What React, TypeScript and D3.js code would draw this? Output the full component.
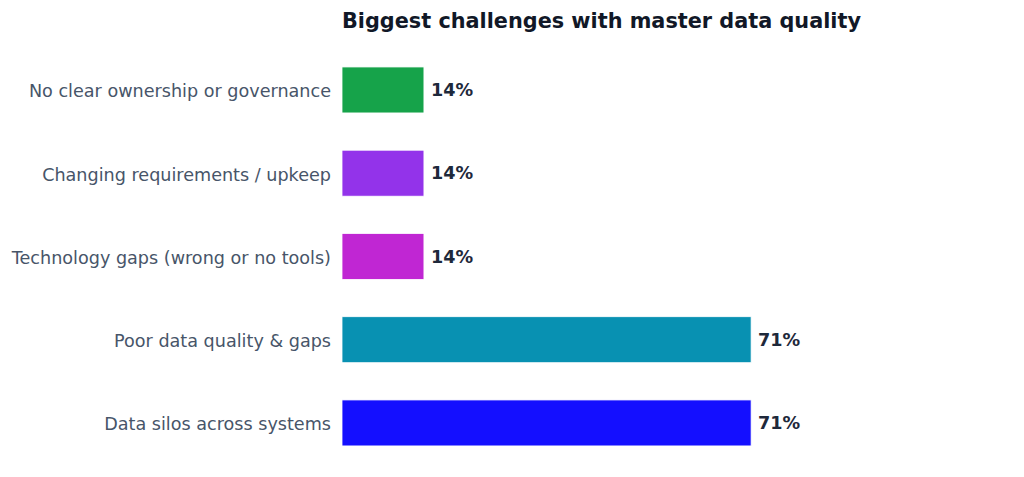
import React, { useEffect, useRef } from 'react';
import * as d3 from 'd3';

const categories = [
  'No clear ownership or governance',
  'Changing requirements / upkeep',
  'Technology gaps (wrong or no tools)',
  'Poor data quality & gaps',
  'Data silos across systems',
];
const values = [14.3, 14.3, 14.3, 71.4, 71.4];
const colors = ['#16a34a', '#9333ea', '#c026d3', '#0891b2', '#140fff'];
const title = 'Biggest challenges with master data quality';

const App: React.FC = () => {
  const svgRef = useRef<SVGSVGElement | null>(null);

  useEffect(() => {
    if (!svgRef.current) return;
    const width = 1024;
    const height = 477;
    const font = 'DejaVu Sans, sans-serif';

    const svg = d3.select(svgRef.current);
    svg.selectAll('*').remove();
    svg.attr('width', width).attr('height', height);

    const data = categories.map((c, i) => ({ label: c, value: values[i], color: colors[i] }));

    const x = d3.scaleLinear().domain([0, 100]).range([342, 915]);
    const y = d3
      .scaleBand()
      .domain(categories)
      .range([29.5, 483.4])
      .paddingInner(0.4475)
      .paddingOuter(0.45);

    // Title
    svg
      .append('text')
      .attr('x', 342)
      .attr('y', 28)
      .attr('font-family', font)
      .attr('font-size', 20.8)
      .attr('font-weight', 'bold')
      .attr('fill', '#111827')
      .text(title);

    // Bars
    svg
      .append('g')
      .selectAll('rect')
      .data(data)
      .enter()
      .append('rect')
      .attr('x', x(0))
      .attr('y', (d) => y(d.label)!)
      .attr('width', (d) => x(d.value) - x(0))
      .attr('height', y.bandwidth())
      .attr('fill', (d) => d.color)
      .attr('stroke', '#ffffff')
      .attr('stroke-width', 0.8);

    // Category labels
    svg
      .append('g')
      .selectAll('text')
      .data(data)
      .enter()
      .append('text')
      .attr('x', x(0) - 11)
      .attr('y', (d) => y(d.label)! + y.bandwidth() / 2)
      .attr('dy', '0.42em')
      .attr('text-anchor', 'end')
      .attr('font-family', font)
      .attr('font-size', 17.6)
      .attr('fill', '#475569')
      .text((d) => d.label);

    // Value labels
    svg
      .append('g')
      .selectAll('text')
      .data(data)
      .enter()
      .append('text')
      .attr('x', (d) => x(d.value) + 7)
      .attr('y', (d) => y(d.label)! + y.bandwidth() / 2)
      .attr('dy', '0.35em')
      .attr('font-family', font)
      .attr('font-size', 17.6)
      .attr('font-weight', 'bold')
      .attr('fill', '#1e293b')
      .text((d) => `${Math.round(d.value)}%`);
  }, []);

  return (
    <div style={{ position: 'absolute', left: 0, top: 0, background: '#fff' }}>
      <svg ref={svgRef} style={{ display: 'block' }}></svg>
    </div>
  );
};

export default App;
